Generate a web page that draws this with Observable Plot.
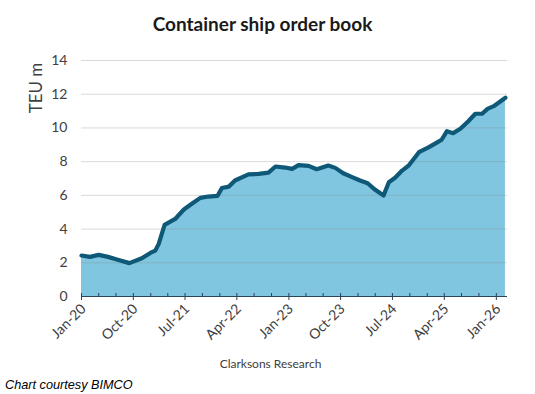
<!DOCTYPE html>
<html>
<head>
<meta charset="utf-8">
<script src="https://cdn.jsdelivr.net/npm/d3@7"></script>
<script src="https://cdn.jsdelivr.net/npm/@observablehq/plot@0.6"></script>
<style>
  body { margin: 0; background: #fff; }
  #wrap { position: relative; width: 535px; height: 394px; font-family: Lato, "Noto Sans", sans-serif; color: #404040; }
  #chart { position: absolute; left: 0; top: 0; }
  #title { position: absolute; left: 0; width: 525px; top: 13px; text-align: center; font-weight: bold; font-size: 19px; line-height: 22px; color: #1a1a1a; }
  #ylab { position: absolute; left: 35px; top: 88px; width: 0; height: 0; }
  #ylab span { position: absolute; left: 0; top: 0; transform: translate(-50%, -50%) rotate(-90deg); font-size: 17px; line-height: 17px; white-space: nowrap; color: #404040; }
  #source { position: absolute; left: 0; width: 541px; top: 356px; text-align: center; font-size: 12px; color: #404040; }
  #caption { position: absolute; left: 5px; top: 378px; font-family: "Liberation Sans", Arial, sans-serif; font-style: italic; font-size: 12.7px; color: #000; }
</style>
</head>
<body>
<div id="wrap">
  <div id="chart"></div>
  <div id="title">Container ship order book</div>
  <div id="ylab"><span>TEU m</span></div>
  <div id="source">Clarksons Research</div>
  <div id="caption">Chart courtesy BIMCO</div>
</div>
<script>
// Data (TEU million)
const dates = [
  "2020-01-01","2020-02-15","2020-04-01","2020-05-20","2020-07-06","2020-09-10","2020-11-15",
  "2021-01-01","2021-01-25","2021-02-12","2021-03-15","2021-05-10","2021-06-25","2021-08-06",
  "2021-09-20","2021-11-01","2021-12-20","2022-01-12","2022-02-18","2022-03-22","2022-06-01",
  "2022-07-25","2022-09-15","2022-10-22","2022-12-12","2023-01-18","2023-02-21","2023-04-15",
  "2023-05-28","2023-07-28","2023-09-03","2023-10-15","2023-12-01","2024-01-12","2024-02-21",
  "2024-04-01","2024-05-15","2024-06-12","2024-07-15","2024-08-21","2024-09-25","2024-11-18",
  "2025-01-10","2025-02-25","2025-03-18","2025-04-15","2025-05-18","2025-06-25","2025-08-06",
  "2025-09-12","2025-10-18","2025-11-15","2025-12-18","2026-02-18"
];
const values = [
  2.43, 2.35, 2.47, 2.35, 2.20, 1.98, 2.27,
  2.60, 2.72, 3.12, 4.25, 4.60, 5.16, 5.50,
  5.85, 5.93, 5.97, 6.44, 6.52, 6.88, 7.24,
  7.27, 7.35, 7.71, 7.65, 7.57, 7.79, 7.75,
  7.55, 7.77, 7.63, 7.31, 7.08, 6.88, 6.72,
  6.33, 5.99, 6.78, 7.04, 7.47, 7.77, 8.56,
  8.86, 9.16, 9.30, 9.81, 9.69, 9.95, 10.40,
  10.84, 10.84, 11.13, 11.29, 11.79
];
const yTicks = [0, 2, 4, 6, 8, 10, 12, 14];
const xLabelTicks = ["2020-01-01","2020-10-01","2021-07-01","2022-04-01","2023-01-01","2023-10-01","2024-07-01","2025-04-01","2026-01-01"];
const xMinorTicks = [
  "2020-04-01","2020-07-01","2021-01-01","2021-04-01","2021-10-01","2022-01-01","2022-07-01","2022-10-01",
  "2023-04-01","2023-07-01","2024-01-01","2024-04-01","2024-10-01","2025-01-01","2025-07-01","2025-10-01"
];
const xDomain = ["2020-01-01", "2026-03-01"];

const parse = d3.utcParse("%Y-%m-%d");
const data = dates.map((d, i) => ({date: parse(d), value: values[i]}));
const major = xLabelTicks.map(parse);
const minor = xMinorTicks.map(parse);

const chart = Plot.plot({
  width: 535,
  height: 394,
  marginLeft: 81,
  marginRight: 28,
  marginTop: 60,
  marginBottom: 98,
  x: {type: "utc", domain: xDomain.map(parse), label: null},
  y: {domain: [0, 14], label: null},
  style: {fontFamily: "Lato, 'Noto Sans', sans-serif", fontSize: "13px", color: "#404040", background: "transparent"},
  marks: [
    Plot.areaY(data, {x: "date", y: "value", fill: "#80c6e0"}),
    Plot.gridY(yTicks.filter(d => d > 0), {stroke: "#8a8a8a", strokeOpacity: 0.32, strokeWidth: 1}),
    Plot.lineY(data, {x: "date", y: "value", stroke: "#0e5878", strokeWidth: 4.2, strokeLinejoin: "round", strokeLinecap: "round"}),
    Plot.ruleY([0], {stroke: "#2a4558", strokeWidth: 1.2}),
    Plot.axisY(yTicks, {tickSize: 0, tickPadding: 14, fontSize: 14, fill: "#404040", label: null}),
    Plot.axisX(minor, {tickSize: 3, dy: -3, tickFormat: () => "", stroke: "#2a4558", label: null}),
    Plot.axisX(major, {tickSize: 7, dy: -3, tickFormat: () => "", stroke: "#2a4558", label: null}),
    Plot.axisX(major, {tickSize: 0, tickPadding: 10, tickRotate: -45, dx: 2, tickFormat: d3.utcFormat("%b-%y"), fontSize: 14, fill: "#404040", label: null})
  ]
});
document.getElementById("chart").appendChild(chart);
</script>
</body>
</html>
